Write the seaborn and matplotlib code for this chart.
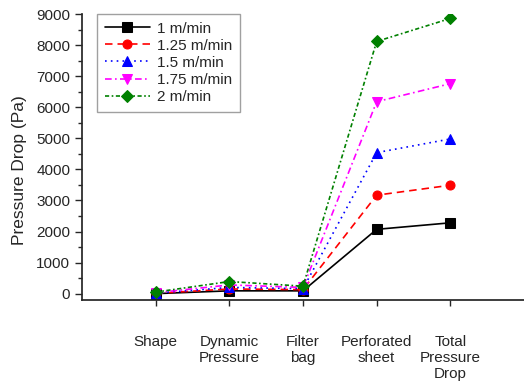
import matplotlib
matplotlib.use("Agg")
import matplotlib.pyplot as plt
import seaborn as sns
import pandas as pd
from matplotlib.ticker import MultipleLocator

sns.set_theme(style="ticks")
plt.rcParams["font.family"] = ["Liberation Sans", "DejaVu Sans"]

categories = ["Shape", "Dynamic\nPressure", "Filter\nbag", "Perforated\nsheet", "Total\nPressure\nDrop"]
series_labels = ["1 m/min", "1.25 m/min", "1.5 m/min", "1.75 m/min", "2 m/min"]
v_1 = [0, 90, 90, 2070, 2280]
v_125 = [10, 150, 130, 3170, 3490]
v_15 = [15, 200, 160, 4540, 4980]
v_175 = [30, 280, 200, 6180, 6760]
v_2 = [50, 390, 240, 8120, 8860]

all_values = [v_1, v_125, v_15, v_175, v_2]
colors = ["black", "red", "blue", "magenta", "green"]
markers = ["s", "o", "^", "v", "D"]
dashes = [None, (4.5, 3), (1, 2.5), (4, 2, 1, 2), (2.5, 1.5, 1, 1.5)]

rows = []
for lab, vals in zip(series_labels, all_values):
    for i, v in enumerate(vals):
        rows.append({"pos": i + 1, "value": v, "series": lab})
df = pd.DataFrame(rows)

fig = plt.figure(figsize=(5.24, 3.81), dpi=100)
ax = fig.add_axes([0.1565, 0.213, 0.8435, 0.75])

for lab, col, mk, ds in zip(series_labels, colors, markers, dashes):
    sub = df[df["series"] == lab]
    sns.lineplot(data=sub, x="pos", y="value", ax=ax, color=col, marker=mk,
                 markersize=6.5, markeredgecolor=col, linewidth=1.2, label=lab)
    ln = ax.lines[-1]
    if ds is not None:
        ln.set_dashes(ds)

ax.set_xlim(0, 6)
ax.set_ylim(-200, 9000)
ax.set_xticks(range(1, 6))
ax.set_xticklabels(categories, fontsize=11, linespacing=1.2)
ax.tick_params(axis="x", pad=21, length=4, width=1, direction="out")
ax.yaxis.set_major_locator(MultipleLocator(1000))
ax.yaxis.set_minor_locator(MultipleLocator(500))
ax.tick_params(axis="y", which="major", length=5, width=1, labelsize=11, direction="out")
ax.tick_params(axis="y", which="minor", length=3, width=1, direction="out")
ax.spines["top"].set_visible(False)
ax.spines["right"].set_visible(False)
ax.set_xlabel("")
ax.set_ylabel("Pressure Drop (Pa)", fontsize=12.5)
ax.yaxis.set_label_coords(-0.125, 0.455)

leg = ax.legend(loc="upper left", bbox_to_anchor=(0.034, 1.0), borderaxespad=0,
                fontsize=11, frameon=True, fancybox=False, edgecolor="#888888",
                handlelength=2.95, handletextpad=0.45, borderpad=0.5, labelspacing=0.2)
leg.get_frame().set_linewidth(1.0)

fig.savefig("out.png", dpi=100)
